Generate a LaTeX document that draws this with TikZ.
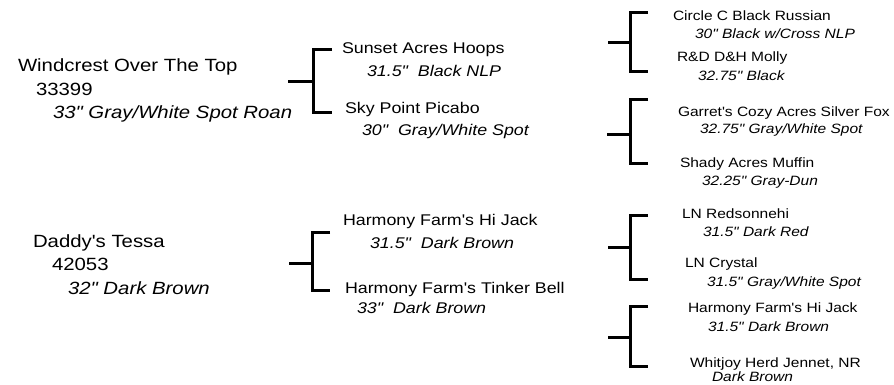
\documentclass[tikz,border=0pt]{standalone}
\usepackage{fontspec}
\setmainfont[FakeStretch=1.15,Ligatures=TeXOff]{Liberation Sans}
\begin{document}
\begin{tikzpicture}[x=1pt,y=-1pt,
  lab/.style={anchor=mid west,inner sep=0pt,outer sep=0pt},
  big/.style={lab,font=\fontsize{17.7}{20}\selectfont},
  bigi/.style={lab,font=\fontsize{17.7}{20}\selectfont\itshape},
  mid/.style={lab,font=\fontsize{15.5}{18}\selectfont},
  midi/.style={lab,font=\fontsize{15.5}{18}\selectfont\itshape},
  sml/.style={lab,font=\fontsize{13.5}{16}\selectfont},
  smli/.style={lab,font=\fontsize{13.5}{16}\selectfont\itshape},
  brk/.style={line width=3pt,line join=miter,line cap=butt}]
\useasboundingbox (0,0) rectangle (894,385);
% level 1
\node[big]  (w1) at (18,69) {Windcrest Over The Top};
\node[big]  (w2) at (36,93) {33399};
\node[bigi] (w3) at (53,116) {33" Gray/White Spot Roan};
\node[big]  (d1) at (33,245) {Daddy's Tessa};
\node[big]  (d2) at (52,268) {42053};
\node[bigi] (d3) at (68,292) {32" Dark Brown};
% level 2
\node[mid]  (s1) at (342,51) {Sunset Acres Hoops};
\node[midi] (s2) at (367,74) {31.5"\ \ Black NLP};
\node[mid]  (p1) at (345,111) {Sky Point Picabo};
\node[midi] (p2) at (362,133) {30"\ \ Gray/White Spot};
\node[mid]  (h1) at (343,223) {Harmony Farm's Hi Jack};
\node[midi] (h2) at (370,246) {31.5"\ \ Dark Brown};
\node[mid]  (t1) at (345,291) {Harmony Farm's Tinker Bell};
\node[midi] (t2) at (357,311) {33"\ \ Dark Brown};
% level 3
\node[sml]  (c1) at (673,18) {Circle C Black Russian};
\node[smli] (c2) at (695,36) {30" Black w/Cross NLP};
\node[sml]  (m1) at (677,59) {R\&D D\&H Molly};
\node[smli] (m2) at (698,78) {32.75" Black};
\node[sml]  (g1) at (678,114) {Garret's Cozy Acres Silver Fox};
\node[smli] (g2) at (700,131) {32.75" Gray/White Spot};
\node[sml]  (f1) at (680,165) {Shady Acres Muffin};
\node[smli] (f2) at (702,183) {32.25" Gray-Dun};
\node[sml]  (r1) at (682,216) {LN Redsonnehi};
\node[smli] (r2) at (703,234) {31.5" Dark Red};
\node[sml]  (y1) at (685,265) {LN Crystal};
\node[smli] (y2) at (707,284) {31.5" Gray/White Spot};
\node[sml]  (j1) at (688,310) {Harmony Farm's Hi Jack};
\node[smli] (j2) at (708,329) {31.5" Dark Brown};
\node[sml]  (n1) at (690,365) {Whitjoy Herd Jennet, NR};
\node[smli] (n2) at (712,379) {Dark Brown};
% bracket coordinates
\coordinate (a0) at (288,82);  \coordinate (am) at (313,82);
\coordinate (at) at (332,50);  \coordinate (ab) at (332,113);
\coordinate (b0) at (289,263); \coordinate (bm) at (312,263);
\coordinate (bt) at (330,232); \coordinate (bb) at (330,290);
\coordinate (c0) at (608,43);  \coordinate (cm) at (630,43);
\coordinate (ct) at (648,13);  \coordinate (cb) at (648,72);
\coordinate (e0) at (607,135); \coordinate (em) at (630,135);
\coordinate (et) at (648,100); \coordinate (eb) at (648,163);
\coordinate (k0) at (608,247); \coordinate (km) at (630,247);
\coordinate (kt) at (648,215); \coordinate (kb) at (648,279);
\coordinate (q0) at (608,337); \coordinate (qm) at (630,337);
\coordinate (qt) at (648,306); \coordinate (qb) at (648,366);
\foreach \p in {a,b,c,e,k,q}{
  \draw[brk] (\p0) -- (\p m);
  \draw[brk] (\p t) -| (\p m) |- (\p b);
}
\end{tikzpicture}
\end{document}
